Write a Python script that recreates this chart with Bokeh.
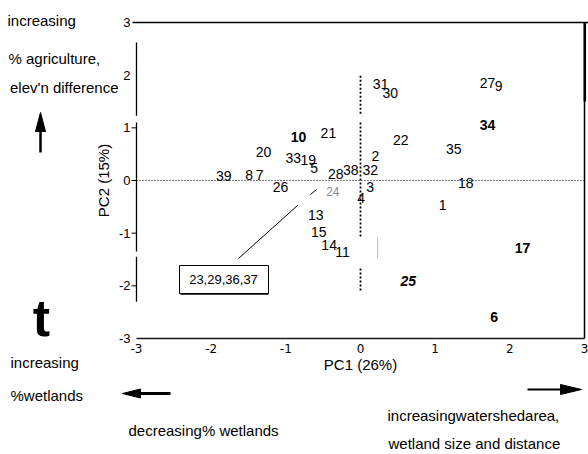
import math
from bokeh.plotting import figure
from bokeh.models import ColumnDataSource, Range1d
from bokeh.core.properties import value
from bokeh.embed import file_html
from bokeh.resources import INLINE

# ---- data (site scores on the first two principal components) ----
site_labels = ["1", "2", "3", "4", "5", "6", "7", "8", "9", "10",
               "11", "13", "14", "15", "17", "18", "19", "20", "21", "22",
               "25", "26", "27", "28", "30", "31", "32", "33", "34", "35",
               "38", "39"]
pc1 = [1.10, 0.20, 0.13, 0.01, -0.62, 1.79, -1.35, -1.49, 1.85, -0.83,
       -0.24, -0.60, -0.42, -0.56, 2.17, 1.41, -0.70, -1.30, -0.43, 0.54,
       0.64, -1.07, 1.70, -0.33, 0.40, 0.27, 0.13, -0.90, 1.70, 1.25,
       -0.13, -1.83]
pc2 = [-0.47, 0.47, -0.13, -0.34, 0.23, -2.60, 0.11, 0.11, 1.80, 0.82,
       -1.35, -0.65, -1.23, -0.97, -1.29, -0.04, 0.38, 0.55, 0.91, 0.76,
       -1.90, -0.13, 1.86, 0.13, 1.67, 1.84, 0.19, 0.42, 1.06, 0.59,
       0.19, 0.09]
faint_labels = ["24"]
faint_pc1 = [-0.37]
faint_pc2 = [-0.21]
group_sites = ["23", "29", "36", "37"]
group_pc1 = [-0.84]
group_pc2 = [-0.47]
x_ticks = [-3, -2, -1, 0, 1, 2, 3]
y_ticks = [-3, -2, -1, 0, 1, 2, 3]
x_title = "PC1 (26%)"
y_title = "PC2 (15%)"

bold_sites = {"10", "34", "17", "6"}
bold_italic_sites = {"25"}
styles = ["bold italic" if s in bold_italic_sites else ("bold" if s in bold_sites else "normal")
          for s in site_labels]

FONT = "Liberation Sans"
W, H = 588, 454
# pixel layout of the plotting box: x=-3..3 -> 136..584 px, y=3..-3 -> 22..338 px
X0PX, XSC = 360.0, 74.67
Y0PX, YSC = 180.0, 52.67


def xd(px):
    return (px - X0PX) / XSC


def yd(py):
    return (Y0PX - py) / YSC


p = figure(width=W, height=H, x_range=Range1d(xd(0), xd(W)), y_range=Range1d(yd(H), yd(0)),
           output_backend="svg", toolbar_location=None, min_border=0,
           x_axis_location=None, y_axis_location=None)
p.grid.visible = False
p.outline_line_color = None
p.background_fill_color = "white"
p.border_fill_color = "white"

# ---- frame lines ----
p.multi_line(xs=[[xd(132), xd(588)], [3, 3]], ys=[[3, 3], [3, -3]],
             line_color="black", line_width=1.5)
p.line(x=[3.004, 3.004], y=[3, 1.5], line_color="black", line_width=2.5)
# bottom border, drawn in pieces
for xa, xb in [(-3, -1), (-1, 1), (1, 3)]:
    p.line(x=[xa, xb], y=[-3, -3], line_color="#151515", line_width=1.6)
p.segment(x0=[-3, -3, -3], y0=[2.62, 1.10, -1.45], x1=[-3, -3, -3], y1=[1.23, -1.35, -2.30],
          line_color="black", line_width=1.3)
# small tick marks on the PC2 axis
p.segment(x0=[xd(131)] * 4, y0=y_ticks[1:5], x1=[-3] * 4, y1=y_ticks[1:5],
          line_color="black", line_width=1)

# ---- tick labels and titles ----
p.text(x=x_ticks, y=[yd(348)] * len(x_ticks), text=[str(t) for t in x_ticks],
       text_font=value("DejaVu Sans"), text_font_size="12px", text_align="center",
       text_baseline="middle", text_color="black")
p.text(x=[xd(130)] * len(y_ticks), y=y_ticks, text=[str(t) for t in y_ticks],
       text_font=value(FONT), text_font_size="13px", text_align="right",
       text_baseline="middle", text_color="black")
p.text(x=[0], y=[yd(364)], text=[x_title], text_font=value(FONT), text_font_size="15px",
       text_align="center", text_baseline="middle", text_color="black")
p.text(x=[xd(103)], y=[0], text=[y_title], text_font=value(FONT), text_font_size="15px",
       text_align="center", text_baseline="middle", text_color="black", angle=math.pi / 2)

# ---- reference lines through the origin ----
p.line(x=[-3, 3], y=[0, 0], line_color="black", line_width=1, line_dash="1 2")
p.segment(x0=[0, 0, 0], y0=[1.99, 1.10, -1.67], x1=[0, 0, 0], y1=[1.23, -1.08, -2.10],
          line_color="black", line_width=1.8, line_dash="2 2")
p.segment(x0=[0.23], y0=[-1.08], x1=[0.23], y1=[-1.48], line_color="#bbbbbb", line_width=1)

# ---- site labels ----
src = ColumnDataSource(dict(x=pc1, y=pc2, label=site_labels, style=styles))
p.text(x="x", y="y", text="label", source=src, text_font=value(FONT),
       text_font_size="14px", text_font_style="style", text_align="center",
       text_baseline="middle", text_color="black")
p.text(x=faint_pc1, y=faint_pc2, text=faint_labels, text_font=value(FONT),
       text_font_size="12px", text_align="center", text_baseline="middle",
       text_color="#888888")

# ---- grouped sites box with leader ----
p.line(x=[xd(238), group_pc1[0]], y=[yd(258), group_pc2[0]], line_color="black", line_width=1)
p.line(x=[xd(310), xd(316)], y=[yd(194), yd(189)], line_color="black", line_width=1)
p.quad(left=[xd(179)], right=[xd(268)], top=[yd(265)], bottom=[yd(293)],
       fill_color="white", line_color="black", line_width=1)
p.line(x=[xd(180), xd(268)], y=[yd(293.5), yd(293.5)], line_color="black", line_width=1.5)
p.text(x=[xd(223)], y=[yd(279)], text=[",".join(group_sites)], text_font=value(FONT),
       text_font_size="13px", text_align="center", text_baseline="middle", text_color="black")

# ---- outer annotations ----
outer = [
    ("increasing", 7, 20, "left"),
    ("% agriculture,", 8, 58, "left"),
    ("elev'n difference", 118, 87, "right"),
    ("increasing", 10, 362, "left"),
    ("%wetlands", 10, 395, "left"),
    ("decreasing% wetlands", 128, 430, "left"),
    ("increasingwatershedarea,", 387, 415, "left"),
    ("wetland size and distance", 388, 443, "left"),
]
for txt, px, py, al in outer:
    p.text(x=[xd(px)], y=[yd(py)], text=[txt], text_font=value(FONT), text_font_size="15px",
           text_align=al, text_baseline="middle", text_color="black")
p.text(x=[xd(41)], y=[yd(317)], text=["t"], text_font=value(FONT), text_font_size="52px",
       text_font_style="bold", text_align="center", text_baseline="middle", text_color="black")

# arrows: (tail x, tail y, tip x, tip y, head length, head half-width, line width) in px
arrows = [(40, 152, 40, 112, 19, 5, 2.5), (170, 393, 122, 393, 18, 4.5, 3),
          (527, 389, 581, 389, 21, 5, 2)]
for (x0, y0, x1, y1, hl, hw, lw) in arrows:
    dx, dy = x1 - x0, y1 - y0
    L = math.hypot(dx, dy)
    ux, uy = dx / L, dy / L
    bx, by = x1 - ux * hl, y1 - uy * hl
    nx, ny = -uy, ux
    p.line(x=[xd(x0), xd(bx)], y=[yd(y0), yd(by)], line_color="black", line_width=lw)
    p.patch(x=[xd(x1), xd(bx + nx * hw), xd(bx - nx * hw)],
            y=[yd(y1), yd(by + ny * hw), yd(by - ny * hw)],
            fill_color="black", line_color="black", line_width=1)

open("out.html", "w").write(file_html(p, INLINE))
